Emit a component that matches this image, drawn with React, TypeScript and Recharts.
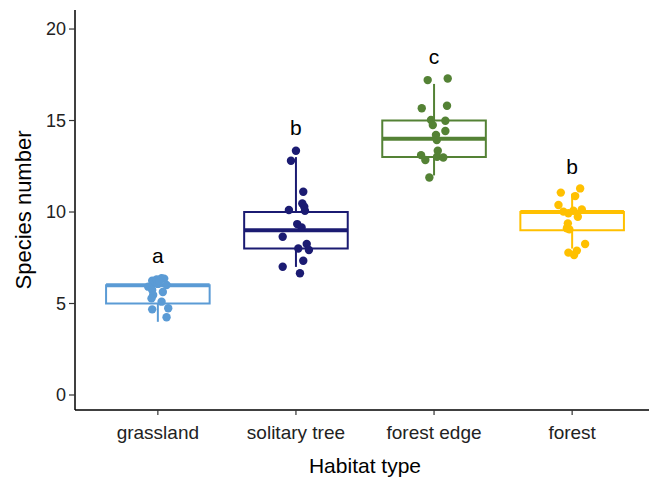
import React from 'react';
import { ComposedChart, XAxis, YAxis, Scatter, ReferenceArea, ReferenceLine } from 'recharts';

const habitats = ['grassland', 'solitary tree', 'forest edge', 'forest'];
const colors = ['#5B9BD5', '#1B1B72', '#548235', '#FFC000'];
const q1 = [5, 8, 13, 9];
const medians = [6, 9, 14, 10];
const q3 = [6, 10, 15, 10];
const whiskerLow = [4, 7, 12, 8];
const whiskerHigh = [6, 13, 17, 11];
const letters = ['a', 'b', 'c', 'b'];
const letterY = [7.2, 14.2, 18.1, 12.1];
const yTicks = [0, 5, 10, 15, 20];
const xTicks = [1, 2, 3, 4];

// jitter offset (category units), species number
const grasslandPts: [number, number][] = [
  [-0.041, 6.24], [-0.009, 6.32], [0.027, 6.38], [0.046, 6.36], [0.063, 6.01], [-0.07, 5.92],
  [-0.041, 5.74], [-0.034, 5.46], [-0.046, 5.28], [0.027, 5.1], [-0.041, 4.68], [0.075, 4.74],
  [0.063, 4.25], [0.0, 6.07], [0.036, 5.63], [0.01, 6.2],
];
const solitaryPts: [number, number][] = [
  [0.0, 13.35], [-0.036, 12.8], [0.053, 11.11], [0.046, 10.47], [-0.051, 10.11], [0.065, 10.07],
  [0.06, 10.29], [0.009, 9.34], [0.041, 9.16], [-0.096, 8.65], [0.078, 8.25], [0.017, 8.01],
  [0.094, 7.92], [0.053, 7.34], [-0.096, 7.01], [0.029, 6.65],
];
const edgePts: [number, number][] = [
  [-0.046, 17.21], [0.099, 17.3], [-0.089, 15.67], [0.094, 15.81], [-0.022, 15.03], [0.082, 14.99],
  [-0.009, 14.75], [0.082, 14.43], [0.014, 14.21], [0.02, 13.93], [0.027, 13.35], [-0.094, 13.11],
  [-0.063, 12.84], [0.022, 13.02], [0.067, 12.98], [-0.034, 11.89],
];
const forestPts: [number, number][] = [
  [-0.082, 11.06], [0.058, 11.29], [0.022, 10.87], [-0.099, 10.38], [-0.063, 10.02], [-0.027, 9.93],
  [0.009, 10.07], [0.07, 10.14], [0.041, 9.74], [-0.031, 9.38], [-0.038, 9.11], [-0.02, 9.05],
  [0.094, 8.25], [0.034, 7.89], [-0.027, 7.78], [0.014, 7.65],
];
const allPts = [grasslandPts, solitaryPts, edgePts, forestPts];

const BOX_HALF = 0.375;

export default function App() {
  const letterData = letters.map((l, i) => ({ x: i + 1, y: letterY[i], label: l }));
  return (
    <div
      style={{
        position: 'absolute',
        left: 0,
        top: 0,
        width: 649,
        height: 477,
        overflow: 'hidden',
        background: '#fff',
        fontFamily: '"Liberation Sans", Arial, sans-serif',
      }}
    >
      <ComposedChart width={660} height={477} margin={{ top: 10, right: 5, left: 0, bottom: 0 }}>
        <XAxis
          type="number"
          dataKey="x"
          domain={[0.4, 4.6]}
          ticks={xTicks}
          allowDataOverflow
          tickFormatter={(v: number) => habitats[v - 1]}
          height={67}
          axisLine={{ stroke: '#000', strokeWidth: 1.5 }}
          tickLine={{ stroke: '#333', strokeWidth: 1.2 }}
          tickSize={5}
          tickMargin={11}
          tick={{ fill: '#222', fontSize: 19 }}
          label={{ value: 'Habitat type', position: 'insideBottom', offset: 4, fontSize: 21, fill: '#000' }}
        />
        <YAxis
          type="number"
          dataKey="y"
          domain={[-0.82, 21.04]}
          ticks={yTicks}
          allowDataOverflow
          width={75}
          axisLine={{ stroke: '#000', strokeWidth: 1.5 }}
          tickLine={{ stroke: '#333', strokeWidth: 1.2 }}
          tickSize={6}
          tickMargin={3}
          tick={{ fill: '#222', fontSize: 18 }}
          label={{
            value: 'Species number',
            angle: -90,
            position: 'insideLeft',
            offset: 23,
            fontSize: 22,
            fill: '#000',
            style: { textAnchor: 'middle' },
          }}
        />
        {habitats.map((h, i) => (
          <ReferenceLine
            key={'wh' + h}
            segment={[{ x: i + 1, y: q3[i] }, { x: i + 1, y: whiskerHigh[i] }]}
            stroke={colors[i]}
            strokeWidth={2}
            ifOverflow="visible"
          />
        ))}
        {habitats.map((h, i) => (
          <ReferenceLine
            key={'wl' + h}
            segment={[{ x: i + 1, y: whiskerLow[i] }, { x: i + 1, y: q1[i] }]}
            stroke={colors[i]}
            strokeWidth={2}
            ifOverflow="visible"
          />
        ))}
        {habitats.map((h, i) => (
          <ReferenceArea
            key={'box' + h}
            x1={i + 1 - BOX_HALF}
            x2={i + 1 + BOX_HALF}
            y1={q1[i]}
            y2={q3[i]}
            fill="#fff"
            fillOpacity={1}
            stroke={colors[i]}
            strokeWidth={2}
            ifOverflow="visible"
          />
        ))}
        {habitats.map((h, i) => (
          <ReferenceLine
            key={'med' + h}
            segment={[{ x: i + 1 - BOX_HALF, y: medians[i] }, { x: i + 1 + BOX_HALF, y: medians[i] }]}
            stroke={colors[i]}
            strokeWidth={4}
            ifOverflow="visible"
          />
        ))}
        {habitats.map((h, i) => (
          <Scatter
            key={'pts' + h}
            name={h}
            data={allPts[i].map(([dx, v]) => ({ x: i + 1 + dx, y: v }))}
            isAnimationActive={false}
            shape={(p: any) => <circle cx={p.cx} cy={p.cy} r={4.2} fill={colors[i]} />}
          />
        ))}
        <Scatter
          data={letterData}
          isAnimationActive={false}
          shape={(p: any) => (
            <text x={p.cx} y={p.cy} textAnchor="middle" fontSize={21} fill="#000">
              {p.payload.label}
            </text>
          )}
        />
      </ComposedChart>
    </div>
  );
}
